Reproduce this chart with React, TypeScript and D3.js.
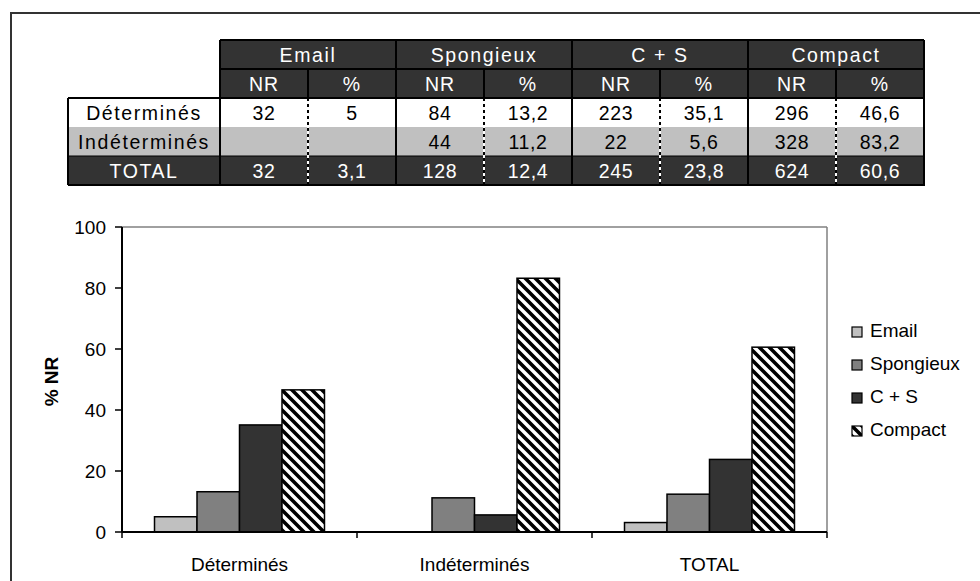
import React from "react";
import * as d3 from "d3";

const groups = ["Email", "Spongieux", "C + S", "Compact"];
const rowLabels = ["Déterminés", "Indéterminés", "TOTAL"];
const subHeaders = ["NR", "%"];
const nrValues: (number | null)[][] = [
  [32, 84, 223, 296],
  [null, 44, 22, 328],
  [32, 128, 245, 624],
];
const pctValues: (number | null)[][] = [
  [5, 13.2, 35.1, 46.6],
  [null, 11.2, 5.6, 83.2],
  [3.1, 12.4, 23.8, 60.6],
];
const yTicks = [0, 20, 40, 60, 80, 100];
const yLabel = "% NR";

const FONT = "Arial, 'Liberation Sans', Helvetica, sans-serif";
const DARK = "#333333";
const seriesFill = ["#c0c0c0", "#808080", "#333333", "url(#stripes)"];
const rowFill = ["#ffffff", "#c0c0c0", DARK];
const rowText = ["#000000", "#000000", "#ffffff"];

const fmt = (v: number | null) => (v == null ? "" : String(v).replace(".", ","));

export default function App() {
  // table geometry
  const colX = d3.scaleBand<number>().domain(d3.range(8)).range([220, 924]);
  const rowY = [40, 69, 98, 127, 156, 185];
  const labelX0 = 68;
  const tfs = 19.5;

  // chart geometry
  const plot = { left: 122, right: 827, top: 227, bottom: 532 };
  const x0 = d3.scaleBand<string>().domain(rowLabels).range([plot.left, plot.right]).padding(0);
  const x1 = d3.scaleBand<string>().domain(groups).range([0, x0.bandwidth()]).paddingInner(0).paddingOuter(0.765);
  const y = d3.scaleLinear().domain([0, 100]).range([plot.bottom, plot.top]);

  const cellsText: React.ReactNode[] = [];
  const cellsRect: React.ReactNode[] = [];
  const lines: React.ReactNode[] = [];

  // header row 1
  groups.forEach((g, gi) => {
    const xa = colX(gi * 2)!;
    const w = colX.bandwidth() * 2;
    cellsRect.push(<rect key={"h1" + gi} x={xa} y={rowY[0]} width={w} height={rowY[1] - rowY[0]} fill={DARK} />);
    cellsText.push(
      <text key={"h1t" + gi} x={xa + w / 2} y={(rowY[0] + rowY[1]) / 2} dy="0.36em" textAnchor="middle" fill="#fff" fontSize={tfs} letterSpacing={1.6}>
        {g}
      </text>
    );
    subHeaders.forEach((s, si) => {
      const xc = colX(gi * 2 + si)!;
      cellsRect.push(<rect key={"h2" + gi + si} x={xc} y={rowY[1]} width={colX.bandwidth()} height={rowY[2] - rowY[1]} fill={DARK} />);
      cellsText.push(
        <text key={"h2t" + gi + si} x={xc + colX.bandwidth() / 2} y={(rowY[1] + rowY[2]) / 2} dy="0.36em" textAnchor="middle" fill="#fff" fontSize={tfs} letterSpacing={1}>
          {s}
        </text>
      );
    });
  });

  // data rows
  rowLabels.forEach((r, ri) => {
    const ya = rowY[ri + 2];
    const yb = rowY[ri + 3];
    cellsRect.push(<rect key={"rl" + ri} x={labelX0} y={ya} width={924 - labelX0} height={yb - ya} fill={rowFill[ri]} />);
    cellsText.push(
      <text key={"rlt" + ri} x={(labelX0 + 220) / 2} y={(ya + yb) / 2} dy="0.36em" textAnchor="middle" fill={rowText[ri]} fontSize={tfs} letterSpacing={1.6}>
        {r}
      </text>
    );
    groups.forEach((g, gi) => {
      [nrValues[ri][gi], pctValues[ri][gi]].forEach((v, si) => {
        const xc = colX(gi * 2 + si)!;
        cellsText.push(
          <text key={"c" + ri + gi + si} x={xc + colX.bandwidth() / 2} y={(ya + yb) / 2} dy="0.36em" textAnchor="middle" fill={rowText[ri]} fontSize={tfs} letterSpacing={0.6}>
            {fmt(v)}
          </text>
        );
      });
    });
  });

  // borders
  const lw = 2;
  // horizontal
  lines.push(<line key="hl0" x1={220} x2={924} y1={rowY[0]} y2={rowY[0]} stroke="#000" strokeWidth={lw} />);
  lines.push(<line key="hl1" x1={220} x2={924} y1={rowY[1]} y2={rowY[1]} stroke="#000" strokeWidth={lw} />);
  lines.push(<line key="hl2" x1={labelX0} x2={924} y1={rowY[2]} y2={rowY[2]} stroke="#000" strokeWidth={lw} />);
  lines.push(<line key="hl4" x1={labelX0} x2={924} y1={rowY[4]} y2={rowY[4]} stroke="#000" strokeWidth={1} />);
  lines.push(<line key="hl5" x1={labelX0} x2={924} y1={rowY[5]} y2={rowY[5]} stroke="#000" strokeWidth={lw} />);
  // verticals
  lines.push(<line key="vl" x1={labelX0} x2={labelX0} y1={rowY[2]} y2={rowY[5]} stroke="#000" strokeWidth={lw} />);
  d3.range(5).forEach((i) => {
    const xv = i < 4 ? colX(i * 2)! : 924;
    lines.push(<line key={"vg" + i} x1={xv} x2={xv} y1={rowY[0]} y2={rowY[5] + 1} stroke="#000" strokeWidth={lw} />);
  });
  groups.forEach((g, gi) => {
    const xv = colX(gi * 2 + 1)!;
    lines.push(<line key={"vs" + gi} x1={xv} x2={xv} y1={rowY[1]} y2={rowY[2]} stroke="#000" strokeWidth={lw} />);
    lines.push(<line key={"vdw" + gi} x1={xv} x2={xv} y1={rowY[2]} y2={rowY[5]} stroke="#fff" strokeWidth={lw} />);
    lines.push(<line key={"vdb" + gi} x1={xv} x2={xv} y1={rowY[2]} y2={rowY[5]} stroke="#000" strokeWidth={lw} strokeDasharray="3,3" />);
  });

  return (
    <svg width={980} height={581} style={{ position: "absolute", left: 0, top: 0, background: "#fff" }} fontFamily={FONT}>
      <defs>
        <pattern id="stripes" patternUnits="userSpaceOnUse" width={10} height={10}>
          <rect width={10} height={10} fill="#fff" />
          <path d="M-2,-2 L12,12 M-12,-2 L2,12 M8,-2 L22,12" stroke="#000" strokeWidth={3.6} />
        </pattern>
      </defs>
      {/* outer frame */}
      <rect x={11} y={13} width={1000} height={600} fill="#fff" stroke="#333" strokeWidth={2} />

      {/* table */}
      <g>{cellsRect}</g>
      <g>{lines}</g>
      <g>{cellsText}</g>

      {/* chart */}
      <g>
        <line x1={plot.left} x2={plot.right} y1={plot.top} y2={plot.top} stroke="#808080" strokeWidth={1.5} />
        <line x1={plot.right} x2={plot.right} y1={plot.top} y2={plot.bottom} stroke="#808080" strokeWidth={1.5} />
        {rowLabels.map((r, ri) => (
          <g key={"grp" + r} transform={`translate(${x0(r)},0)`}>
            {groups.map((g, gi) => {
              const v = pctValues[ri][gi];
              if (v == null) return null;
              return (
                <rect
                  key={g}
                  x={x1(g)}
                  y={y(v)}
                  width={x1.bandwidth()}
                  height={y(0) - y(v)}
                  fill={seriesFill[gi]}
                  stroke="#000"
                  strokeWidth={1.5}
                />
              );
            })}
          </g>
        ))}
        <line x1={plot.left} x2={plot.left} y1={plot.top} y2={plot.bottom} stroke="#000" strokeWidth={2} />
        <line x1={plot.left} x2={plot.right} y1={plot.bottom} y2={plot.bottom} stroke="#000" strokeWidth={2} />
        {yTicks.map((t) => (
          <g key={"yt" + t}>
            <line x1={plot.left - 7} x2={plot.left} y1={y(t)} y2={y(t)} stroke="#000" strokeWidth={1.5} />
            <text x={106} y={y(t)} dy="0.36em" textAnchor="end" fontSize={19}>
              {t}
            </text>
          </g>
        ))}
        {[...rowLabels.map((r) => x0(r)!), plot.right].map((xv, i) => (
          <line key={"xt" + i} x1={xv} x2={xv} y1={plot.bottom} y2={plot.bottom + 6} stroke="#000" strokeWidth={1.5} />
        ))}
        {rowLabels.map((r) => (
          <text key={"xl" + r} x={x0(r)! + x0.bandwidth() / 2} y={571} textAnchor="middle" fontSize={19}>
            {r}
          </text>
        ))}
        <text transform={`translate(58,${(plot.top + plot.bottom) / 2 + 2}) rotate(-90)`} textAnchor="middle" fontSize={19} fontWeight="bold">
          {yLabel}
        </text>
      </g>

      {/* legend */}
      <g>
        {groups.map((g, gi) => (
          <g key={"lg" + g} transform={`translate(852,${327 + gi * 33})`}>
            <rect x={0} y={0} width={10} height={10} fill={seriesFill[gi]} stroke="#000" strokeWidth={1.2} />
            <text x={18} y={10} fontSize={19}>
              {g}
            </text>
          </g>
        ))}
      </g>
    </svg>
  );
}
